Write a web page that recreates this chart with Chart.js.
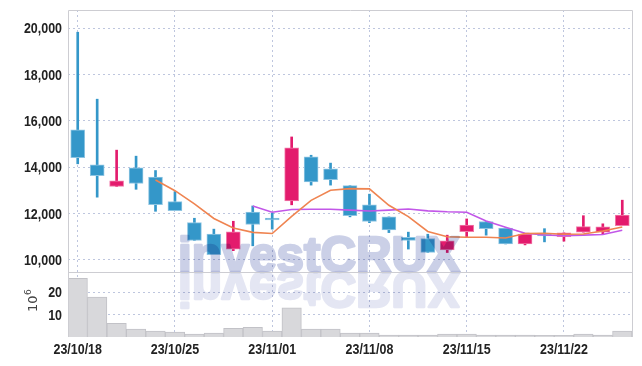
<!DOCTYPE html>
<html>
<head>
<meta charset="utf-8">
<script src="https://cdn.jsdelivr.net/npm/chart.js@4.4.1/dist/chart.umd.min.js"></script>
<style>
  html, body { margin: 0; padding: 0; background: #fff; }
</style>
</head>
<body>
<canvas id="chart" width="642" height="366"></canvas>
<script>
// trading days
const dates = ['23/10/18','23/10/19','23/10/20','23/10/23','23/10/24','23/10/25','23/10/26','23/10/27','23/10/30','23/10/31',
  '23/11/01','23/11/02','23/11/03','23/11/06','23/11/07','23/11/08','23/11/09','23/11/10','23/11/13','23/11/14',
  '23/11/15','23/11/16','23/11/17','23/11/20','23/11/21','23/11/22','23/11/23','23/11/24','23/11/27'];

const opens  = [15620,14110,13170,13980,13580,12520,11610,11120,10460,12070,11810,12550,14450,13930,13210,12380,11860,10980,10920,10430,11220,11660,11380,10690,11110,11010,11200,11200,11480];
const closes = [14420,13640,13410,13300,12390,12130,10840,10230,11210,11530,11730,14840,13370,13470,11910,11660,11300,10840,10320,10820,11510,11350,10690,11120,11040,11170,11440,11430,11940];
const highs  = [19830,16940,14740,14480,13860,12950,11800,11330,11670,12330,12020,15310,14520,14180,13210,12840,11860,11200,11110,11070,11770,11660,11380,11120,11350,11170,11910,11560,12580];
const lows   = [14150,12710,13170,13050,12100,12130,10840,10230,10400,10610,11330,12380,13230,13230,11860,11610,11180,10470,10320,10320,11010,11070,10690,10650,10780,10810,11200,11110,11480];

const ma5  = [null,null,null,null,13450,12990,12420,11790,11380,11190,11140,11880,12570,13010,13080,13070,12360,11870,11230,11000,10980,10980,10950,11140,11150,11110,11120,11250,11420];
const ma10 = [null,null,null,null,null,null,null,null,null,12330,12060,12180,12190,12190,12150,12110,12150,12200,12120,12080,12060,11680,11410,11150,11080,11050,11070,11100,11280];

// volume, millions
const volumes = [26.2,17.8,6.1,3.5,2.6,2.2,1.3,1.7,3.9,4.3,2.6,13.0,3.5,3.5,1.7,1.7,0.9,0.9,0.9,1.3,1.3,0.9,0.9,0.9,0.8,0.8,1.3,0.9,2.6];

const priceTicks = [10000,12000,14000,16000,18000,20000];
const volumeTicks = [10,20];

const UP = '#e31b6d', DOWN = '#3497c9';
const UP_EDGE = '#f17aa9', DOWN_EDGE = '#8ec5e2';
const GRID = 'rgb(190,198,222)';
const LABEL_FONT = 'bold 15px "Liberation Sans", Arial, sans-serif';
const SQUEEZE = 0.83;

const isUp = opens.map((o, i) => closes[i] >= o);

function squeezedText(ctx, text, x, y, align) {
  ctx.save();
  ctx.translate(x, y);
  ctx.scale(SQUEEZE, 1);
  ctx.textAlign = align;
  ctx.fillText(text, 0, 0);
  ctx.restore();
}

// heavy watermark rendered once off-screen, then multiplied onto the chart
function makeMark(color) {
  const c = document.createElement('canvas');
  c.width = 300; c.height = 50;
  const g = c.getContext('2d');
  g.font = 'bold 50px "Liberation Sans", Arial, sans-serif';
  const w = g.measureText('investCRUX').width;
  g.translate(4, 46);
  g.scale(282 / w, 1);
  g.fillStyle = color; g.strokeStyle = color;
  g.lineWidth = 2.6; g.lineJoin = 'round';
  g.fillText('investCRUX', 0, 0);
  g.strokeText('investCRUX', 0, 0);
  return c;
}
const markFront = makeMark('rgb(203,208,231)');
const markBack = makeMark('rgb(228,230,243)');

const extras = {
  id: 'extras',
  afterDatasetsDraw(chart) {
    const { ctx, chartArea } = chart;
    const yBase = chart.scales.y.bottom;

    ctx.save();
    ctx.globalCompositeOperation = 'multiply';
    ctx.drawImage(markFront, 174, yBase - 46);
    ctx.translate(0, 2 * yBase);
    ctx.scale(1, -1);
    ctx.drawImage(markBack, 174, yBase - 46);
    ctx.restore();

    // frame
    ctx.save();
    ctx.strokeStyle = 'rgb(205,205,210)';
    ctx.lineWidth = 1;
    ctx.beginPath();
    ctx.moveTo(chartArea.left + 0.5, chartArea.bottom);
    ctx.lineTo(chartArea.left + 0.5, chartArea.top + 0.5);
    ctx.lineTo(chartArea.right + 0.5, chartArea.top + 0.5);
    ctx.lineTo(chartArea.right + 0.5, chartArea.bottom);
    ctx.moveTo(chartArea.left, Math.round(yBase) + 0.5);
    ctx.lineTo(chartArea.right, Math.round(yBase) + 0.5);
    ctx.stroke();
    ctx.restore();

    // tick labels
    ctx.save();
    ctx.fillStyle = '#222';
    ctx.font = LABEL_FONT;
    ctx.textBaseline = 'middle';
    const ys = chart.scales.y, vs = chart.scales.yv, xs = chart.scales.x;
    priceTicks.forEach(v => squeezedText(ctx, v.toLocaleString('en-US'), chartArea.left - 6, ys.getPixelForValue(v) + 1, 'right'));
    volumeTicks.forEach(v => squeezedText(ctx, String(v), chartArea.left - 6, vs.getPixelForValue(v) + 1, 'right'));
    ctx.textBaseline = 'top';
    dates.forEach((d, i) => {
      if (i % 5 === 0) squeezedText(ctx, d, xs.getPixelForValue(i), chartArea.bottom + 5, 'center');
    });
    ctx.restore();

    // volume unit
    ctx.save();
    ctx.translate(37, 304);
    ctx.rotate(-Math.PI / 2);
    ctx.fillStyle = '#444';
    ctx.font = '13px "DejaVu Sans", sans-serif';
    ctx.fillText('10', -8, 0);
    ctx.font = '9px "DejaVu Sans", sans-serif';
    ctx.fillText('6', 9, -6);
    ctx.restore();
  }
};

new Chart(document.getElementById('chart').getContext('2d'), {
  data: {
    labels: dates,
    datasets: [
      { type: 'line', label: 'MA5', data: ma5, borderColor: '#ef8451', borderWidth: 1.6,
        pointRadius: 0, yAxisID: 'y', order: 0 },
      { type: 'line', label: 'MA10', data: ma10, borderColor: '#c257e8', borderWidth: 1.6,
        pointRadius: 0, yAxisID: 'y', order: 0 },
      { type: 'bar', label: 'body', data: opens.map((o, i) => [o, closes[i]]),
        backgroundColor: isUp.map(u => u ? UP : DOWN),
        borderColor: isUp.map(u => u ? UP_EDGE : DOWN_EDGE),
        borderWidth: 1, borderSkipped: false, barThickness: 14, grouped: false,
        yAxisID: 'y', order: 1 },
      { type: 'bar', label: 'wick', data: lows.map((l, i) => [l, highs[i]]),
        backgroundColor: isUp.map(u => u ? UP : DOWN),
        barThickness: 2, grouped: false, yAxisID: 'y', order: 2 },
      { type: 'bar', label: 'volume', data: volumes,
        backgroundColor: 'rgb(216,216,219)', borderColor: 'rgb(194,194,199)', borderWidth: 1,
        barPercentage: 1, categoryPercentage: 1, grouped: false, yAxisID: 'yv', order: 3 }
    ]
  },
  options: {
    responsive: false,
    animation: false,
    devicePixelRatio: 1,
    layout: { padding: { top: 10, right: 10, left: 0, bottom: 0 } },
    plugins: { legend: { display: false }, tooltip: { enabled: false } },
    scales: {
      x: {
        type: 'category',
        offset: true,
        grid: { offset: false, drawTicks: false,
          color: c => (c.index % 5 === 0 ? GRID : 'rgba(0,0,0,0)') },
        border: { display: false, dash: [2, 3] },
        ticks: { display: false, autoSkip: false },
        afterFit: s => { s.height = 29; }
      },
      yv: {
        type: 'linear', position: 'left', stack: 'left', stackWeight: 1,
        min: 0, max: 29,
        afterBuildTicks: s => { s.ticks = volumeTicks.map(v => ({ value: v })); },
        grid: { color: GRID, drawTicks: false },
        border: { display: false, dash: [2, 3] },
        ticks: { display: false },
        afterFit: s => { s.width = 68; }
      },
      y: {
        type: 'linear', position: 'left', stack: 'left', stackWeight: 4.03,
        min: 9480, max: 20790,
        afterBuildTicks: s => { s.ticks = priceTicks.map(v => ({ value: v })); },
        grid: { color: GRID, drawTicks: false },
        border: { display: false, dash: [2, 3] },
        ticks: { display: false },
        afterFit: s => { s.width = 68; }
      }
    }
  },
  plugins: [extras]
});
</script>
</body>
</html>
